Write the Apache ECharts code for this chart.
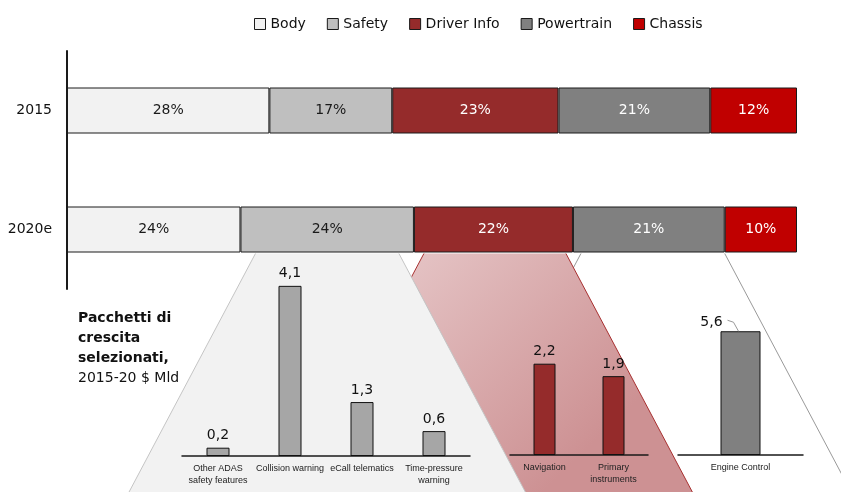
<!DOCTYPE html>
<html>
<head>
<meta charset="utf-8">
<script src="https://cdn.jsdelivr.net/npm/echarts@6/dist/echarts.min.js"></script>
<style>
  html, body { margin: 0; padding: 0; background: #fff; }
  #main { width: 841px; height: 492px; }
</style>
</head>
<body>
<div id="main"></div>
<script>
// shares by segment, %
const years = ['2015', '2020e']
const segments = ['Body', 'Safety', 'Driver Info', 'Powertrain', 'Chassis']
const body = [28, 24]
const safety = [17, 24]
const driverInfo = [23, 22]
const powertrain = [21, 21]
const chassis = [12, 10]

// growth pockets 2015-20, $ bn
const safetyCats = ['Other ADAS\nsafety features', 'Collision warning', 'eCall telematics', 'Time-pressure\nwarning']
const safetyVals = [0.2, 4.1, 1.3, 0.6]
const driverCats = ['Navigation', 'Primary\ninstruments']
const driverVals = [2.2, 1.9]
const powerCats = ['Engine Control']
const powerVals = [5.6]

const FONT = 'DejaVu Sans'
const topColors = ['#f2f2f2', '#bfbfbf', '#952b2b', '#808080', '#c00000']
const topLabelColors = ['#1a1a1a', '#1a1a1a', '#fff', '#fff', '#fff']
const topData = [body, safety, driverInfo, powertrain, chassis]
const BAR_H = 46

const chart = echarts.init(document.getElementById('main'))

const comma = p => String(p.value).replace('.', ',')

function smallX(gridIndex, data) {
  return {
    type: 'category', gridIndex, data, z: 10,
    axisLine: { lineStyle: { color: '#1a1a1a', width: 1.5 } },
    axisTick: { show: false },
    axisLabel: { fontFamily: 'Liberation Sans', fontSize: 9, color: '#222', lineHeight: 12, margin: 7, interval: 0 }
  }
}
function smallY(gridIndex, max) {
  return { type: 'value', gridIndex, min: 0, max, show: false }
}
function smallBar(idx, data, color, width) {
  return {
    type: 'bar', xAxisIndex: idx, yAxisIndex: idx, data, barWidth: width, z: 10,
    itemStyle: { color, borderColor: '#111', borderWidth: 1 },
    label: { show: true, position: 'top', formatter: comma, fontFamily: FONT, fontSize: 14, color: '#111' }
  }
}

const option = {
  animation: false,
  legend: {
    data: segments, left: 249, top: 12, itemWidth: 11, itemHeight: 11, itemGap: 21, icon: 'rect',
    itemStyle: { borderColor: '#1a1a1a', borderWidth: 1 },
    textStyle: { fontFamily: FONT, fontSize: 14, color: '#111' }
  },
  title: {
    text: '{b|Pacchetti di}\n{b|crescita}\n{b|selezionati,}\n{n|2015-20 $ Mld}',
    left: 78, top: 308, padding: 0,
    textStyle: {
      fontWeight: 'normal',
      rich: {
        b: { fontFamily: FONT, fontWeight: 'bold', fontSize: 14, lineHeight: 20, color: '#111' },
        n: { fontFamily: FONT, fontWeight: 'normal', fontSize: 14, lineHeight: 20, color: '#111' }
      }
    }
  },
  grid: [
    { left: 67, top: 51, width: 730, height: 238 },
    { left: 182, top: 248.5, width: 288, height: 207.5 },
    { left: 510, top: 247.5, width: 138, height: 207.5 },
    { left: 678, top: 234, width: 125, height: 221 }
  ],
  xAxis: [
    { type: 'value', gridIndex: 0, min: 0, max: 101, show: false },
    smallX(1, safetyCats),
    smallX(2, driverCats),
    smallX(3, powerCats)
  ],
  yAxis: [
    {
      type: 'category', gridIndex: 0, data: years, inverse: true,
      axisLine: { lineStyle: { color: '#1a1a1a', width: 2 } },
      axisTick: { show: false },
      axisLabel: { fontFamily: FONT, fontSize: 14, color: '#111', margin: 15 }
    },
    smallY(1, 5),
    smallY(2, 5),
    smallY(3, 10)
  ],
  series: segments.map((name, i) => ({
    name, type: 'bar', stack: 'share', xAxisIndex: 0, yAxisIndex: 0, barWidth: BAR_H,
    data: topData[i],
    itemStyle: { color: topColors[i], borderColor: '#1a1a1a', borderWidth: 1 },
    label: { show: true, position: 'inside', formatter: '{c}%', color: topLabelColors[i], fontFamily: FONT, fontSize: 14 }
  })).concat([
    smallBar(1, safetyVals, '#a6a6a6', 23),
    smallBar(2, driverVals, '#952b2b', 22),
    Object.assign(smallBar(3, powerVals, '#808080', 40), { labelLayout: { dx: -29, dy: 3 } })
  ])
}

chart.setOption(option)

// funnels from the 2020e segments down to the detail charts
const px = v => chart.convertToPixel({ gridIndex: 0 }, [v, years[1]])
const topY = px(0)[1] + BAR_H / 2 + 1
const c1 = body[1], c2 = c1 + safety[1], c3 = c2 + driverInfo[1], c4 = c3 + powertrain[1]
const BOTTOM = 500
function funnel(v0, v1, lIn, rIn) {
  const a = px(v0)[0] + lIn, b = px(v1)[0] - rIn, s = 0.53 * (BOTTOM - topY)
  return [[a, topY], [b, topY], [b + s, BOTTOM], [a - s, BOTTOM]]
}
function shape(pts, fill, edge, z) {
  return [
    { type: 'polygon', z, silent: true, shape: { points: pts }, style: { fill, stroke: null } },
    { type: 'polyline', z, silent: true, shape: { points: [pts[0], pts[3]] }, style: { stroke: edge, lineWidth: 1, fill: null } },
    { type: 'polyline', z, silent: true, shape: { points: [pts[1], pts[2]] }, style: { stroke: edge, lineWidth: 1, fill: null } }
  ]
}
const pink = new echarts.graphic.LinearGradient(0, 0, 0.6, 1, [
  { offset: 0, color: '#ecd3d4' },
  { offset: 1, color: '#cd9193' }
])
// leader line for the moved 5,6 label
const ec = chart.convertToPixel({ gridIndex: 3 }, [powerCats[0], powerVals[0]])
chart.setOption({
  graphic: [].concat(
    shape(funnel(c3, c4, 8, 0), '#fff', '#999', 1),
    shape(funnel(c2, c3, 10, 7), pink, '#a83030', 2),
    shape(funnel(c1, c2, 15, 15), '#f2f2f2', '#c4c4c4', 3),
    [{
      type: 'polyline', z: 11, silent: true,
      shape: { points: [[ec[0] - 13, ec[1] - 11], [ec[0] - 7, ec[1] - 9], [ec[0] - 2, ec[1]]] },
      style: { stroke: '#999', lineWidth: 1, fill: null }
    }]
  )
})
</script>
</body>
</html>
